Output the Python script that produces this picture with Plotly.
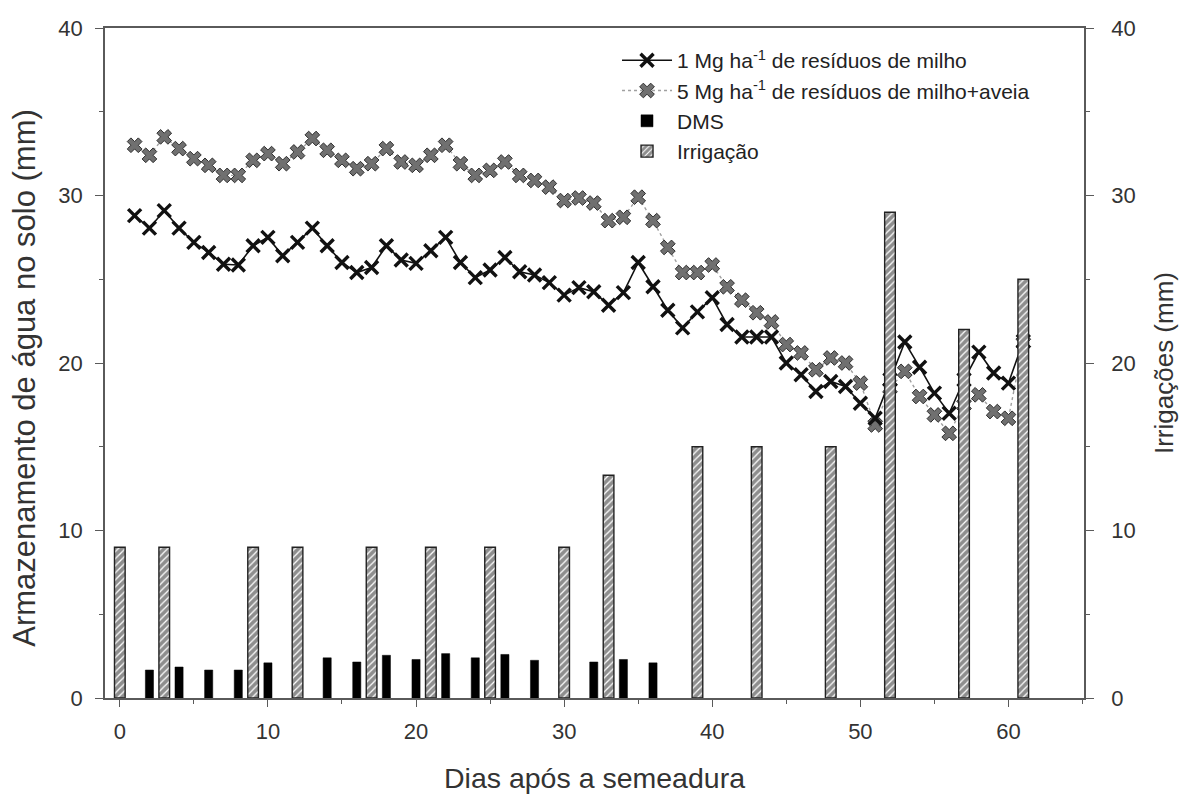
import plotly.graph_objects as go
from plotly.subplots import make_subplots

days = list(range(1, 62))
res_1mg = [28.8, 28.05, 29.1, 28.05, 27.2, 26.6, 25.9, 25.85, 27.0, 27.5,
           26.4, 27.2, 28.05, 27.0, 26.0, 25.4, 25.7, 27.0, 26.15, 25.95,
           26.7, 27.5, 26.0, 25.1, 25.55, 26.3, 25.45, 25.25, 24.8, 24.05,
           24.5, 24.25, 23.45, 24.2, 26.0, 24.55, 23.15, 22.1, 23.05, 23.9,
           22.3, 21.55, 21.55, 21.55, 20.0, 19.3, 18.3, 18.9, 18.6, 17.6,
           16.7, 19.0, 21.25, 19.75, 18.2, 17.0, 19.0, 20.65, 19.4, 18.8,
           21.3]
res_5mg = [33.0, 32.4, 33.5, 32.8, 32.2, 31.8, 31.2, 31.2, 32.1, 32.5,
           31.9, 32.6, 33.4, 32.7, 32.1, 31.6, 31.9, 32.8, 32.0, 31.8,
           32.4, 33.0, 31.9, 31.2, 31.5, 32.0, 31.2, 30.9, 30.5, 29.7,
           29.85, 29.55, 28.5, 28.7, 29.9, 28.5, 26.9, 25.4, 25.4, 25.85,
           24.55, 23.75, 23.0, 22.45, 21.1, 20.6, 19.6, 20.3, 20.0, 18.8,
           16.3, 18.5, 19.5, 18.0, 16.9, 15.8, 17.5, 18.1, 17.1, 16.7,
           21.2]

dms_days = [2, 4, 6, 8, 10, 14, 16, 18, 20, 22, 24, 26, 28, 32, 34, 36]
dms_vals = [1.67, 1.85, 1.67, 1.67, 2.1, 2.4, 2.15, 2.55, 2.3, 2.65,
            2.4, 2.6, 2.25, 2.15, 2.3, 2.1]

irr_days = [0, 3, 9, 12, 17, 21, 25, 30, 33, 39, 43, 48, 52, 57, 61]
irr_vals = [9, 9, 9, 9, 9, 9, 9, 9, 13.3, 15, 15, 15, 29, 22, 25]

FONT = "Liberation Sans, Arial, sans-serif"
AX = "#5a5a5a"
TXT = "#333333"

fig = make_subplots(specs=[[{"secondary_y": True}]])

fig.add_trace(go.Scatter(
    x=days, y=res_5mg, mode="lines+markers",
    name="5 Mg ha<sup>-1</sup> de resíduos de milho+aveia",
    line=dict(color="#a0a0a0", width=1.4, dash="dot"),
    marker=dict(symbol="x", size=13, color="#707070",
                line=dict(color="#2e2e2e", width=1)),
    legendrank=2,
), secondary_y=False)

fig.add_trace(go.Scatter(
    x=days, y=res_1mg, mode="lines+markers",
    name="1 Mg ha<sup>-1</sup> de resíduos de milho",
    line=dict(color="#111111", width=1.6),
    marker=dict(symbol="x-thin", size=13, color="#111111",
                line=dict(color="#111111", width=3.4)),
    legendrank=1,
), secondary_y=False)

fig.add_trace(go.Bar(
    x=dms_days, y=dms_vals, name="DMS", width=0.55,
    marker=dict(color="black", line=dict(color="black", width=0.5)),
    legendrank=3,
), secondary_y=False)

fig.add_trace(go.Bar(
    x=irr_days, y=irr_vals, name="Irrigação", width=0.72,
    marker=dict(color="white", line=dict(color="#222222", width=1.4),
                pattern=dict(shape="/", fgcolor="#1e1e1e", bgcolor="white",
                             size=5, solidity=0.75)),
    legendrank=4,
), secondary_y=True)

fig.update_layout(
    width=1182, height=794,
    margin=dict(l=105, r=98, t=28, b=96),
    paper_bgcolor="white", plot_bgcolor="white",
    barmode="overlay",
    font=dict(family=FONT, size=21, color=TXT),
    showlegend=True,
    legend=dict(x=0.523, y=0.982, xanchor="left", yanchor="top",
                bgcolor="rgba(0,0,0,0)", font=dict(size=21, color="#222222"),
                itemwidth=50, tracegroupgap=0),
    annotations=[dict(
        text="Armazenamento de água no solo (mm)", textangle=-90,
        xref="paper", yref="paper", x=-0.0817, y=0.478,
        xanchor="center", yanchor="middle", showarrow=False,
        font=dict(size=31, color=TXT),
    )],
)

fig.update_xaxes(
    domain=[0, 1],
    range=[-1, 65.1], showline=True, linecolor=AX, linewidth=1.6,
    mirror=True, showgrid=False, zeroline=False, automargin=False,
    ticks="outside", ticklen=7, tickcolor=AX, tickwidth=1.2,
    tickvals=[0, 10, 20, 30, 40, 50, 60], ticklabelstandoff=6,
    minor=dict(ticks="outside", ticklen=4, tickcolor=AX, dtick=5, tick0=0, showgrid=False),
    tickfont=dict(size=22, color=TXT),
    title=dict(text="Dias após a semeadura", font=dict(size=28.5, color=TXT), standoff=27),
)
fig.update_yaxes(
    range=[0, 40], showline=True, linecolor=AX, linewidth=1.6,
    showgrid=False, zeroline=False, automargin=False,
    ticks="outside", ticklen=8, tickcolor=AX, tickwidth=1.2,
    tickvals=[0, 10, 20, 30, 40], ticklabelstandoff=8,
    minor=dict(ticks="outside", ticklen=4, tickcolor=AX, dtick=5, tick0=0, showgrid=False),
    tickfont=dict(size=22, color=TXT),
    secondary_y=False,
)
fig.update_yaxes(
    range=[0, 40], showline=True, linecolor=AX, linewidth=1.6,
    showgrid=False, zeroline=False, automargin=False,
    ticks="outside", ticklen=8, tickcolor=AX, tickwidth=1.2,
    tickvals=[0, 10, 20, 30, 40], ticklabelstandoff=13,
    minor=dict(ticks="outside", ticklen=4, tickcolor=AX, dtick=5, tick0=0, showgrid=False),
    tickfont=dict(size=22, color=TXT),
    title=dict(text="Irrigações (mm)", font=dict(size=26, color=TXT), standoff=20),
    secondary_y=True,
)

fig.write_html("out.html", config={"displayModeBar": False},
               post_script="document.body.style.margin='0';")
